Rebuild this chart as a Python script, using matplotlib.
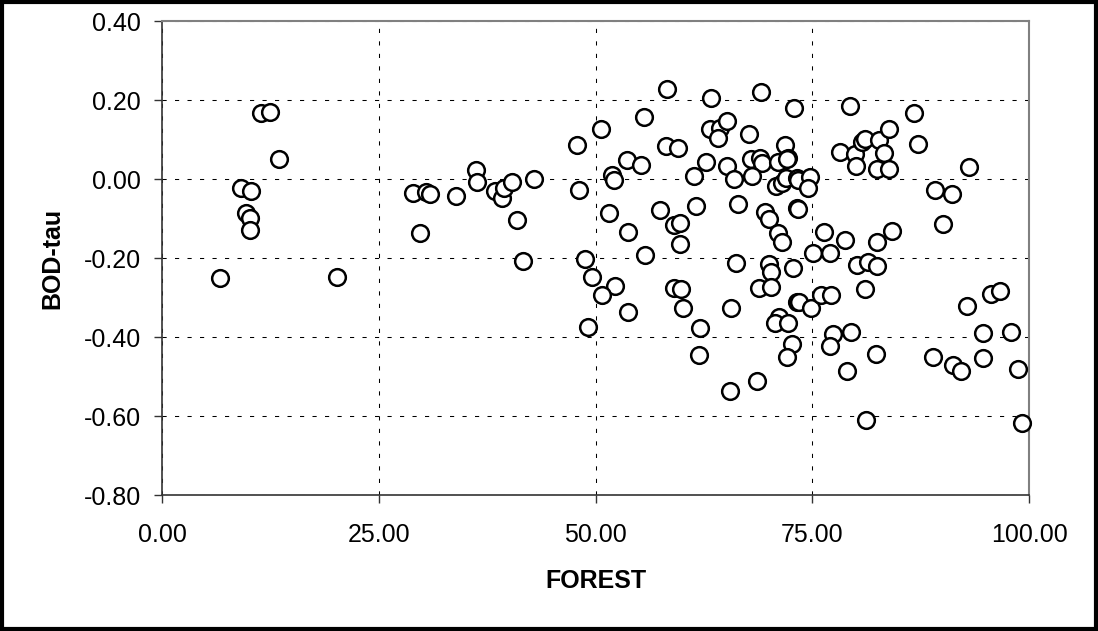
import matplotlib
matplotlib.use("Agg")
import matplotlib.pyplot as plt
from matplotlib.patches import Rectangle

# FOREST (x) and BOD-tau (y)
forest = [6.7, 9.1, 10.3, 9.7, 10.2, 10.2, 11.4, 12.5, 13.5, 20.2,
          28.9, 30.5, 30.9, 29.8, 33.9, 36.2, 36.3, 38.4, 39.2, 39.4,
          40.4, 42.9, 41.0, 41.6,
          47.9, 48.1, 50.6, 51.9, 52.1, 51.6, 53.7, 53.6, 55.3, 55.6,
          55.7, 48.8, 49.6, 58.2, 58.1, 59.5, 57.4, 59.1, 59.8, 59.7,
          61.4, 61.6, 62.8, 63.3, 63.2, 64.4, 64.1, 65.2, 65.2, 66.0,
          66.4, 66.2, 67.7, 69.1, 67.9, 69.0, 69.2, 68.1, 69.5, 70.0,
          71.1, 71.5, 70.0, 70.2, 71.9, 72.2, 71.0, 70.8, 71.5, 72.0,
          72.9, 73.2, 73.2, 72.8,
          72.1, 73.4, 74.7, 74.5, 73.4, 76.4, 75.1, 77.0, 78.8, 79.4,
          78.2, 79.9, 80.1, 80.7, 81.1, 82.7, 83.8, 83.3, 82.5, 83.9,
          86.7, 87.2, 93.1, 89.2, 91.1, 90.1, 84.2, 82.5, 80.2, 81.4,
          82.5,
          52.2, 50.8, 53.8, 49.1, 59.1, 59.9, 60.1, 62.1, 61.9, 65.6,
          65.5, 68.6, 68.8, 70.2, 73.2, 71.2, 70.7, 72.2, 72.7, 72.1,
          81.1, 73.5, 74.8, 76.0, 77.2, 77.4, 77.1, 79.5, 79.0, 82.4,
          81.2, 92.8, 95.6, 96.7, 94.7, 97.9, 88.9, 91.2, 92.1, 94.7,
          98.7, 99.2]
bod_tau = [-0.251, -0.024, -0.030, -0.087, -0.098, -0.129, 0.168, 0.170, 0.050, -0.249,
           -0.035, -0.032, -0.039, -0.137, -0.043, 0.023, -0.007, -0.030, -0.047, -0.024,
           -0.007, 0.000, -0.104, -0.207,
           0.086, -0.028, 0.127, 0.010, -0.003, -0.087, -0.133, 0.048, 0.035, 0.158,
           -0.192, -0.203, -0.247, 0.228, 0.084, 0.079, -0.078, -0.116, -0.111, -0.165,
           0.008, -0.068, 0.044, 0.204, 0.126, 0.128, 0.103, 0.147, 0.033, -0.001,
           -0.062, -0.212, 0.114, 0.221, 0.051, 0.052, 0.041, 0.008, -0.083, -0.100,
           -0.136, -0.159, -0.214, -0.236, 0.086, 0.052, 0.044, -0.018, -0.009, 0.002,
           0.179, 0.002, -0.074, -0.226,
           0.051, -0.003, 0.006, -0.024, -0.076, -0.133, -0.188, -0.188, -0.154, 0.185,
           0.068, 0.063, 0.033, 0.094, 0.101, 0.100, 0.127, 0.065, 0.025, 0.026,
           0.168, 0.089, 0.031, -0.028, -0.039, -0.114, -0.131, -0.159, -0.218, -0.209,
           -0.219,
           -0.271, -0.294, -0.336, -0.374, -0.277, -0.279, -0.327, -0.378, -0.446, -0.327,
           -0.537, -0.511, -0.277, -0.274, -0.311, -0.350, -0.364, -0.364, -0.418, -0.451,
           -0.279, -0.312, -0.327, -0.294, -0.294, -0.392, -0.423, -0.388, -0.485, -0.443,
           -0.610, -0.322, -0.292, -0.283, -0.391, -0.387, -0.450, -0.471, -0.485, -0.452,
           -0.481, -0.618]

x_ticks = [0, 25, 50, 75, 100]
y_ticks = [-0.8, -0.6, -0.4, -0.2, 0.0, 0.2, 0.4]

plt.rcParams["font.family"] = ["Liberation Sans", "DejaVu Sans"]

fig = plt.figure(figsize=(10.98, 6.31), dpi=100)
ax = fig.add_axes([0.1475, 0.2155, 0.7897, 0.7512])

ax.plot(forest, bod_tau, "o", markersize=12, markerfacecolor="white",
        markeredgecolor="black", markeredgewidth=1.8, clip_on=False, zorder=3)

ax.set_xlim(0, 100)
ax.set_ylim(-0.8, 0.4)
ax.set_xticks(x_ticks)
ax.set_xticklabels([f"{v:.2f}" for v in x_ticks])
ax.set_yticks(y_ticks)
ax.set_yticklabels([f"{v:.2f}" for v in y_ticks])
ax.tick_params(labelsize=18, direction="out", length=6, width=1, color="#333333")
ax.tick_params(axis="y", pad=9)
ax.tick_params(axis="x", pad=14)

ax.grid(True, color="black", linewidth=0.75, linestyle=(0, (4, 8)))
ax.set_axisbelow(True)

for side in ["left", "bottom"]:
    ax.spines[side].set_color("#333333")
    ax.spines[side].set_linewidth(1.2)
for side in ["top", "right"]:
    ax.spines[side].set_color("#808080")
    ax.spines[side].set_linewidth(1.5)

ax.set_xlabel("FOREST", fontsize=18, fontweight="bold", labelpad=16)
ax.set_ylabel("BOD-tau", fontsize=18, fontweight="bold", labelpad=14)

# black frame around the whole chart
fig.patches.append(Rectangle((0.002, 0.003), 0.996, 0.994, transform=fig.transFigure,
                             fill=False, edgecolor="black", linewidth=3))

fig.savefig("out.png", dpi=100)
